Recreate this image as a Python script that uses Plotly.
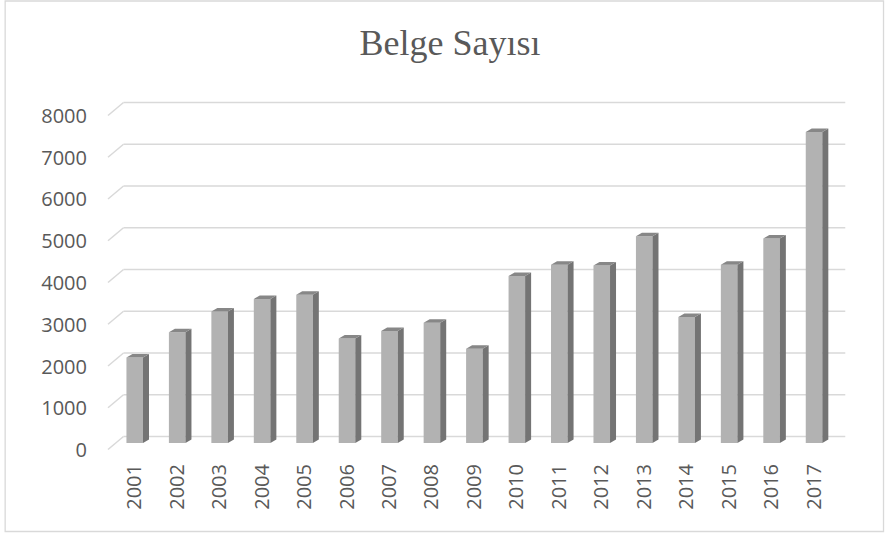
import plotly.graph_objects as go

years = ["2001", "2002", "2003", "2004", "2005", "2006", "2007", "2008", "2009",
         "2010", "2011", "2012", "2013", "2014", "2015", "2016", "2017"]
values = [2050, 2650, 3150, 3450, 3550, 2500, 2680, 2880, 2260,
          4000, 4270, 4250, 4950, 3020, 4270, 4900, 7450]
y_ticks = [0, 1000, 2000, 3000, 4000, 5000, 6000, 7000, 8000]
title_text = "Belge Sayısı"

# ---- geometry / style constants ----
W, H = 885, 534
M_L, M_R, M_T, M_B = 105.3, 37.0, 95.0, 79.0
X_RANGE = [-0.7, 16.8]
Y_RANGE = [-287.4, 8335.0]
plot_w = W - M_L - M_R
plot_h = H - M_T - M_B
px_x = plot_w / (X_RANGE[1] - X_RANGE[0])      # pixels per category unit
px_y = plot_h / (Y_RANGE[1] - Y_RANGE[0])      # pixels per value unit


def dx(p):
    return p / px_x


def dy(p):
    return p / px_y


BAR_W = 0.39
DEPTH_X, DEPTH_Y = dx(6.0), dy(3.5)
BACK_X, BACK_Y = dx(10.0), dy(6.5)
FRONT_X, FRONT_Y = dx(-5.5), dy(-6.5)

FRONT_COLOR = "#b2b2b2"
SIDE_COLOR = "#747474"
TOP_COLOR = "#878787"
GRID_COLOR = "#d9d9d9"
TEXT_COLOR = "#595959"

idx = list(range(len(years)))

fig = go.Figure()

# front faces
fig.add_trace(go.Bar(x=idx, y=values, width=BAR_W, marker=dict(color=FRONT_COLOR, line=dict(width=0)),
                     showlegend=False, hoverinfo="skip"))

# side faces
sx, sy = [], []
for i, v in zip(idx, values):
    xr = i + BAR_W / 2
    sx += [xr, xr, xr + DEPTH_X, xr + DEPTH_X, xr, None]
    sy += [0, v, v + DEPTH_Y, DEPTH_Y, 0, None]
fig.add_trace(go.Scatter(x=sx, y=sy, mode="lines", fill="toself", fillcolor=SIDE_COLOR,
                         line=dict(width=0, color=SIDE_COLOR), showlegend=False, hoverinfo="skip"))

# top faces
tx, ty = [], []
for i, v in zip(idx, values):
    xl, xr = i - BAR_W / 2, i + BAR_W / 2
    tx += [xl, xr, xr + DEPTH_X, xl + DEPTH_X, xl, None]
    ty += [v, v, v + DEPTH_Y, v + DEPTH_Y, v, None]
fig.add_trace(go.Scatter(x=tx, y=ty, mode="lines", fill="toself", fillcolor=TOP_COLOR,
                         line=dict(width=0, color=TOP_COLOR), showlegend=False, hoverinfo="skip"))

# gridlines on back wall with perspective stub
shapes = []
x_left = -0.5
x_right = len(years) - 0.5
for t in y_ticks:
    shapes.append(dict(type="line", xref="x", yref="y", layer="below",
                       x0=x_left + FRONT_X, y0=t + FRONT_Y, x1=x_left + BACK_X, y1=t + BACK_Y,
                       line=dict(color=GRID_COLOR, width=1.5)))
    shapes.append(dict(type="line", xref="x", yref="y", layer="below",
                       x0=x_left + BACK_X, y0=t + BACK_Y, x1=x_right + BACK_X, y1=t + BACK_Y,
                       line=dict(color=GRID_COLOR, width=1.5)))

# chart border
bx0, bx1 = 5.5, 883.5
by0, by1 = 1.0, 531.5
shapes.append(dict(type="rect", xref="paper", yref="paper", layer="below",
                   x0=(bx0 - M_L) / plot_w, x1=(bx1 - M_L) / plot_w,
                   y0=(H - M_B - by1) / plot_h, y1=(H - M_B - by0) / plot_h,
                   line=dict(color=GRID_COLOR, width=1.3), fillcolor="rgba(0,0,0,0)"))

fig.update_layout(
    width=W, height=H,
    margin=dict(l=M_L, r=M_R, t=M_T, b=M_B, autoexpand=False),
    paper_bgcolor="white", plot_bgcolor="white",
    shapes=shapes,
    title=dict(text=title_text, x=450 / W, xanchor="center", y=1 - 42 / H, yanchor="middle",
               font=dict(family="Liberation Serif", size=36, color=TEXT_COLOR)),
    xaxis=dict(range=X_RANGE, tickmode="array", tickvals=idx, ticktext=years, tickangle=-90,
               showgrid=False, zeroline=False, showline=False, ticks="",
               tickfont=dict(family="Open Sans", size=20, color=TEXT_COLOR),
               ticklabelstandoff=4, fixedrange=True),
    yaxis=dict(range=Y_RANGE, tickmode="array", tickvals=y_ticks, ticktext=[str(t) for t in y_ticks],
               showgrid=False, zeroline=False, showline=False, ticks="",
               tickfont=dict(family="Open Sans", size=20, color=TEXT_COLOR),
               ticklabelshift=7, ticklabelstandoff=17, fixedrange=True),
    bargap=0.6,
)

fig.write_html("out.html", config={"displayModeBar": False},
               post_script="document.body.style.margin='0';document.body.style.overflow='hidden';")
